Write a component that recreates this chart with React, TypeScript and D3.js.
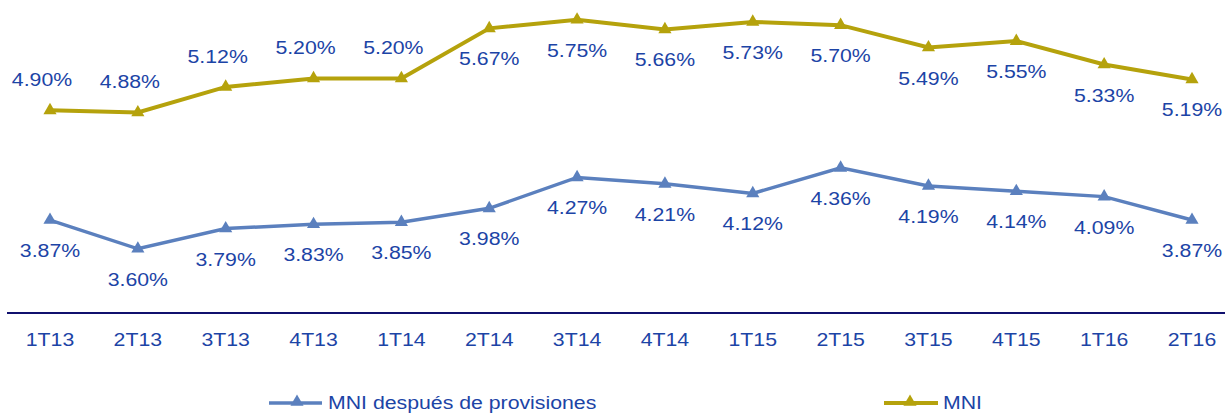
import React from "react";
import * as d3 from "d3";

const categories = ["1T13","2T13","3T13","4T13","1T14","2T14","3T14","4T14","1T15","2T15","3T15","4T15","1T16","2T16"];
const mniValues = [4.90,4.88,5.12,5.20,5.20,5.67,5.75,5.66,5.73,5.70,5.49,5.55,5.33,5.19];
const mniProvValues = [3.87,3.60,3.79,3.83,3.85,3.98,4.27,4.21,4.12,4.36,4.19,4.14,4.09,3.87];
const mniLabelAbove = [true,true,true,true,true,false,false,false,false,false,false,false,false,false];
const seriesNames = ["MNI después de provisiones", "MNI"];

const W = 1225, H = 415;
const GOLD = "#B5A20C";
const BLUE = "#5B80BE";
const TEXT = "#1C44A6";
const AXIS = "#10106E";
const FONT = "'Liberation Sans', Arial, sans-serif";
const SX = 1.12;

function Label({ x, y, text, anchor = "middle", size = 19 }: { x: number; y: number; text: string; anchor?: string; size?: number }) {
  return (
    <text transform={`translate(${x},${y}) scale(${SX},1)`} textAnchor={anchor as any} fontFamily={FONT} fontSize={size} fill={TEXT}>
      {text}
    </text>
  );
}

export default function App() {
  const x = d3.scalePoint<string>().domain(categories).range([50, 1192]);
  const y = d3.scaleLinear().domain([3, 6]).range([312.7, 312.7 - 3 * 106.5]);
  const line = d3.line<number>().x((_, i) => x(categories[i])!).y((v) => y(v));
  const tri = d3.symbol().type(d3.symbolTriangle).size(75)()!;

  return (
    <svg width={W} height={H} style={{ position: "absolute", left: 0, top: 0 }}>
      <rect width={W} height={H} fill="#fff" />
      <line x1={7} x2={W} y1={313} y2={313} stroke={AXIS} strokeWidth={2} />
      {categories.map((c) => (
        <Label key={c} x={x(c)!} y={346} text={c} />
      ))}
      <path d={line(mniValues)!} fill="none" stroke={GOLD} strokeWidth={4} />
      <path d={line(mniProvValues)!} fill="none" stroke={BLUE} strokeWidth={3.5} />
      {mniValues.map((v, i) => (
        <path key={"g" + i} d={tri} transform={`translate(${x(categories[i])},${y(v)})`} fill={GOLD} />
      ))}
      {mniProvValues.map((v, i) => (
        <path key={"b" + i} d={tri} transform={`translate(${x(categories[i])},${y(v)})`} fill={BLUE} />
      ))}
      {mniValues.map((v, i) => (
        <Label key={"gl" + i}
          x={x(categories[i])! + (mniLabelAbove[i] ? -8 : 0)}
          y={y(v) + (mniLabelAbove[i] ? -24 : 37)}
          text={v.toFixed(2) + "%"} />
      ))}
      {mniProvValues.map((v, i) => (
        <Label key={"bl" + i} x={x(categories[i])!} y={y(v) + 37} text={v.toFixed(2) + "%"} />
      ))}
      {/* legend */}
      <line x1={269} x2={322} y1={403} y2={403} stroke={BLUE} strokeWidth={3.5} />
      <path d={tri} transform="translate(297,402)" fill={BLUE} />
      <Label x={328} y={409} text={seriesNames[0]} anchor="start" />
      <line x1={884} x2={938} y1={403} y2={403} stroke={GOLD} strokeWidth={4} />
      <path d={tri} transform="translate(910,402)" fill={GOLD} />
      <Label x={943} y={409} text={seriesNames[1]} anchor="start" />
    </svg>
  );
}
